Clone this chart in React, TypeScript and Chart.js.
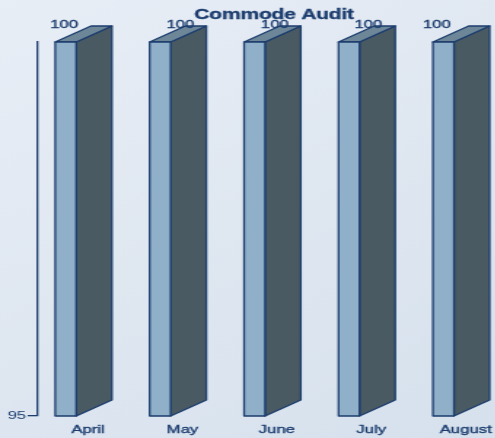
import React, { useEffect, useRef } from "react";
import { Chart, registerables } from "chart.js";

Chart.register(...registerables);

// ---- data ----
const months = ["April", "May", "June", "July", "August"];
const auditScores = [100, 100, 100, 100, 100];
const axisMin = 95;
const axisMax = 100;
const yTickValues = [95];
const chartTitle = "Commode Audit";

// ---- drawing constants ----
// The chart is drawn on a narrower bitmap and stretched horizontally;
// the last bar's depth runs past the right edge and is clipped by the frame.
const DRAW_W = 350;
const DRAW_H = 438;
const STRETCH = 495 / 340;
const FRAME_W = 495;

const FONT = '"Liberation Sans", Arial, Helvetica, sans-serif';
const NAVY = "#1c3d6e";
const FRONT = "#8fb0c8";
const SIDE = "#4a5a63";
const TOP = "#6d8799";

const FACE_W = 14.4; // front face width
const DEPTH_X = 24.5; // 3D depth offset
const DEPTH_Y = 16;
const FACE_SHIFT = -20.5; // front face left edge relative to category centre
const valueLabelNudge = [-14.4, 0.6, 0.6, 0, -17.8];

type Pt = [number, number];

function fillPoly(ctx: CanvasRenderingContext2D, pts: Pt[], fill: string) {
  ctx.beginPath();
  ctx.moveTo(pts[0][0], pts[0][1]);
  for (let k = 1; k < pts.length; k++) ctx.lineTo(pts[k][0], pts[k][1]);
  ctx.closePath();
  ctx.fillStyle = fill;
  ctx.fill();
  ctx.stroke();
}

// slightly heavier text: fill plus a hairline stroke in the same colour
function boldText(ctx: CanvasRenderingContext2D, text: string, x: number, y: number, w: number) {
  ctx.fillText(text, x, y);
  ctx.lineWidth = w;
  ctx.strokeText(text, x, y);
}

const bars3d = {
  id: "bars3d",
  beforeDraw(chart: any) {
    const { ctx, width, height } = chart;
    const g = ctx.createLinearGradient(0, 0, width, height);
    g.addColorStop(0, "#e8eef6");
    g.addColorStop(0.5, "#dfe7f1");
    g.addColorStop(1, "#d6e1ed");
    ctx.save();
    ctx.fillStyle = g;
    ctx.fillRect(0, 0, width, height);
    ctx.restore();
  },
  afterDatasetsDraw(chart: any) {
    const { ctx } = chart;
    const x = chart.scales.x;
    const y = chart.scales.y;
    const values = chart.data.datasets[0].data as number[];
    const base = y.getPixelForValue(axisMin);
    ctx.save();
    ctx.lineWidth = 1.3;
    ctx.strokeStyle = NAVY;
    ctx.lineJoin = "round";
    values.forEach((v, i) => {
      const cx = x.getPixelForValue(i);
      const top = y.getPixelForValue(v);
      const l = cx + FACE_SHIFT;
      const r = l + FACE_W;
      fillPoly(ctx, [[r, top], [r + DEPTH_X, top - DEPTH_Y], [r + DEPTH_X, base - DEPTH_Y], [r, base]], SIDE);
      fillPoly(ctx, [[l, top], [l + DEPTH_X, top - DEPTH_Y], [r + DEPTH_X, top - DEPTH_Y], [r, top]], TOP);
      fillPoly(ctx, [[l, top], [r, top], [r, base], [l, base]], FRONT);
    });
    ctx.restore();
  },
  afterDraw(chart: any) {
    const { ctx, chartArea } = chart;
    const x = chart.scales.x;
    const y = chart.scales.y;
    const values = chart.data.datasets[0].data as number[];
    ctx.save();
    ctx.fillStyle = NAVY;
    ctx.strokeStyle = NAVY;
    ctx.textAlign = "center";
    ctx.textBaseline = "middle";

    // title
    ctx.font = `bold 14.5px ${FONT}`;
    (ctx as any).letterSpacing = "-0.2px";
    boldText(ctx, chartTitle, (chartArea.left + chartArea.right) / 2, 15, 0.3);
    (ctx as any).letterSpacing = "0px";

    // value labels
    ctx.font = `11.5px ${FONT}`;
    values.forEach((v, i) => {
      const cx = x.getPixelForValue(i) + valueLabelNudge[i];
      const top = y.getPixelForValue(v);
      boldText(ctx, String(v), cx, top - 17.5, 0.35);
    });

    // category labels
    months.forEach((m, i) => {
      boldText(ctx, m, x.getPixelForValue(i) + 2, chartArea.bottom + 14, 0.35);
    });
    ctx.restore();
  },
};

export default function App() {
  const canvasRef = useRef<HTMLCanvasElement | null>(null);

  useEffect(() => {
    const canvas = canvasRef.current;
    if (!canvas) return;
    Chart.defaults.font.family = FONT;
    const chart = new Chart(canvas, {
      type: "bar",
      data: {
        labels: months,
        datasets: [
          {
            label: chartTitle,
            data: auditScores,
            backgroundColor: "rgba(0,0,0,0)",
            borderWidth: 0,
          },
        ],
      },
      options: {
        responsive: false,
        animation: false,
        devicePixelRatio: 1,
        events: [],
        layout: { padding: { top: 42, bottom: 22, left: 0, right: 0 } },
        plugins: {
          legend: { display: false },
          title: { display: false },
          tooltip: { enabled: false },
        },
        scales: {
          x: { type: "category", display: false, offset: true },
          y: {
            min: axisMin,
            max: axisMax,
            afterBuildTicks: (s: any) => {
              s.ticks = yTickValues.map((value) => ({ value }));
            },
            afterFit: (s: any) => {
              s.width = 26;
            },
            border: { color: NAVY, width: 1.3 },
            grid: { drawOnChartArea: false, color: NAVY, tickLength: 7, lineWidth: 1.3 },
            ticks: { color: NAVY, padding: 1, font: { family: FONT, size: 11.5 } },
          },
        },
      },
      plugins: [bars3d],
    } as any);
    return () => chart.destroy();
  }, []);

  return (
    <div
      style={{
        position: "fixed",
        left: 0,
        top: 0,
        width: FRAME_W,
        height: DRAW_H,
        overflow: "hidden",
      }}
    >
      <canvas
        ref={canvasRef}
        width={DRAW_W}
        height={DRAW_H}
        style={{ width: `${DRAW_W * STRETCH}px`, height: `${DRAW_H}px`, display: "block" }}
      />
    </div>
  );
}
